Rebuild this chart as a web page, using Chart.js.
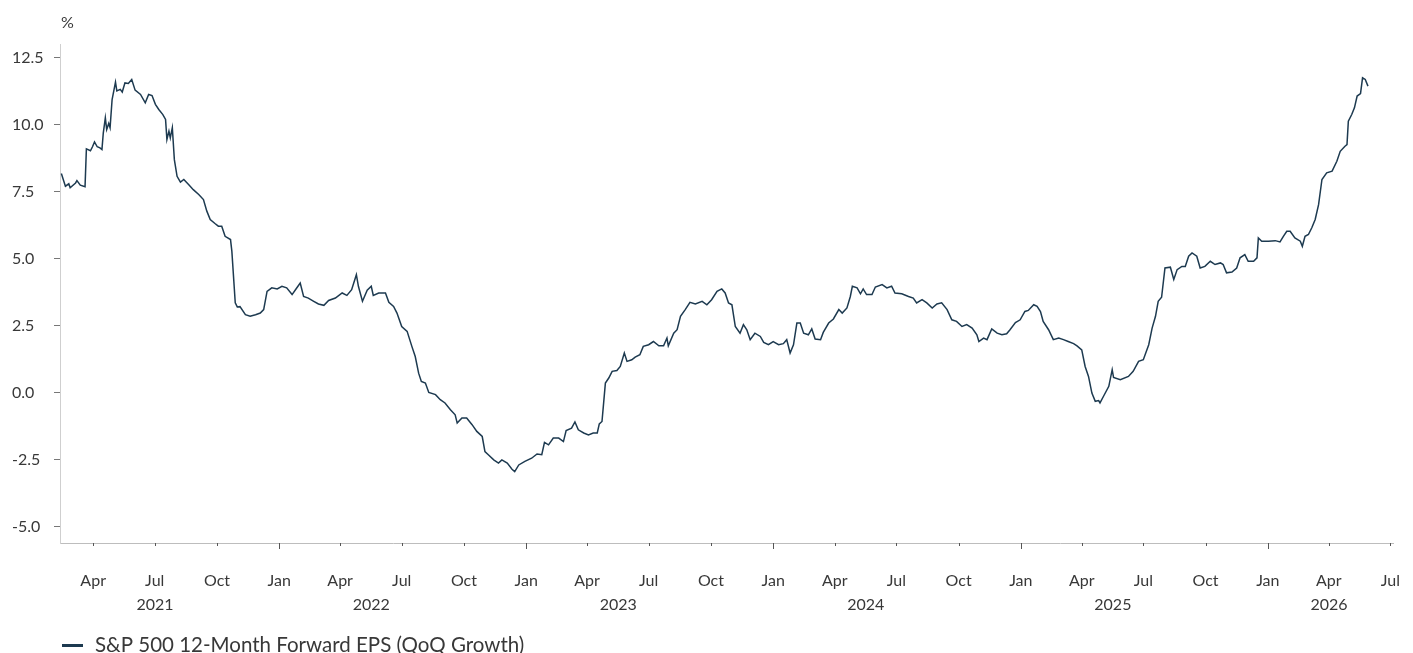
<!DOCTYPE html>
<html>
<head>
<meta charset="utf-8">
<script src="https://cdn.jsdelivr.net/npm/chart.js@4.4.1/dist/chart.umd.min.js"></script>
<style>
html,body{margin:0;padding:0;background:#fff;overflow:hidden}
#wrap{width:1413px;height:653px;position:relative}
</style>
</head>
<body>
<div id="wrap"><canvas id="c" width="1413" height="653"></canvas></div>
<script>
// ---- Data ----
const dates = [
'2021-02-13','2021-02-19','2021-02-24','2021-02-26','2021-03-06','2021-03-08','2021-03-13','2021-03-20','2021-03-22','2021-03-28',
'2021-03-31','2021-04-03','2021-04-07','2021-04-11','2021-04-14','2021-04-16','2021-04-19','2021-04-21','2021-04-24','2021-04-26',
'2021-04-29','2021-05-04','2021-05-06','2021-05-11','2021-05-14','2021-05-18','2021-05-23','2021-05-28','2021-06-02','2021-06-10',
'2021-06-17','2021-06-22','2021-06-27','2021-07-02','2021-07-07','2021-07-13','2021-07-17','2021-07-19','2021-07-22','2021-07-24',
'2021-07-27','2021-07-30','2021-08-03','2021-08-08','2021-08-13','2021-08-20','2021-08-27','2021-09-04','2021-09-11','2021-09-16',
'2021-09-21','2021-09-28','2021-10-03','2021-10-08','2021-10-13','2021-10-21','2021-10-23','2021-10-28','2021-10-31','2021-11-04',
'2021-11-12','2021-11-19','2021-11-27','2021-12-04','2021-12-09','2021-12-14','2021-12-21','2021-12-29',
'2022-01-05','2022-01-12','2022-01-20','2022-01-25','2022-02-01','2022-02-06','2022-02-13','2022-02-21','2022-02-28','2022-03-08',
'2022-03-15','2022-03-25','2022-04-04','2022-04-11','2022-04-18','2022-04-25','2022-04-28','2022-05-04','2022-05-11','2022-05-17',
'2022-05-20','2022-05-28','2022-06-07','2022-06-12','2022-06-19','2022-06-24','2022-07-01','2022-07-09','2022-07-16','2022-07-21',
'2022-07-26','2022-07-30','2022-08-05','2022-08-10','2022-08-20','2022-08-27','2022-09-03','2022-09-11','2022-09-18','2022-09-21',
'2022-09-28','2022-10-05','2022-10-13','2022-10-20','2022-10-28','2022-11-01','2022-11-06','2022-11-14','2022-11-21','2022-11-26',
'2022-12-04','2022-12-11','2022-12-15','2022-12-21','2022-12-30',
'2023-01-09','2023-01-17','2023-01-24','2023-01-28','2023-02-03','2023-02-10','2023-02-18','2023-02-25','2023-03-01','2023-03-09',
'2023-03-14','2023-03-19','2023-03-27','2023-04-03','2023-04-10','2023-04-16','2023-04-19','2023-04-23','2023-04-25','2023-04-28',
'2023-05-03','2023-05-08','2023-05-15','2023-05-20','2023-05-26','2023-05-30','2023-06-06','2023-06-11','2023-06-18','2023-06-23',
'2023-07-01','2023-07-08','2023-07-16','2023-07-23','2023-07-28','2023-07-30','2023-08-07','2023-08-12','2023-08-17','2023-08-24',
'2023-08-31','2023-09-08','2023-09-18','2023-09-25','2023-10-02','2023-10-10','2023-10-17','2023-10-22','2023-10-27','2023-11-01',
'2023-11-06','2023-11-13','2023-11-18','2023-11-23','2023-11-28','2023-12-05','2023-12-13','2023-12-18','2023-12-25',
'2024-01-01','2024-01-09','2024-01-16','2024-01-21','2024-01-26','2024-01-31','2024-02-05','2024-02-10','2024-02-15','2024-02-22',
'2024-02-27','2024-03-03','2024-03-11','2024-03-15','2024-03-23','2024-03-30','2024-04-07','2024-04-12','2024-04-19','2024-04-24',
'2024-04-27','2024-05-04','2024-05-09','2024-05-13','2024-05-18','2024-05-26','2024-05-31','2024-06-10','2024-06-17','2024-06-24',
'2024-06-29','2024-07-09','2024-07-19','2024-07-26','2024-07-31','2024-08-08','2024-08-15','2024-08-23','2024-08-30','2024-09-06',
'2024-09-14','2024-09-21','2024-09-28','2024-10-06','2024-10-13','2024-10-21','2024-10-28','2024-10-31','2024-11-07','2024-11-12',
'2024-11-19','2024-11-27','2024-12-04','2024-12-11','2024-12-16','2024-12-24','2024-12-31',
'2025-01-07','2025-01-12','2025-01-20','2025-01-25','2025-01-30','2025-02-03','2025-02-11','2025-02-18','2025-02-26','2025-03-05',
'2025-03-12','2025-03-20','2025-03-25','2025-04-01','2025-04-06','2025-04-11','2025-04-16','2025-04-21','2025-04-26','2025-04-28',
'2025-05-03','2025-05-11','2025-05-16','2025-05-18','2025-05-28','2025-06-09','2025-06-16','2025-06-24','2025-07-01','2025-07-09',
'2025-07-14','2025-07-19','2025-07-23','2025-07-28','2025-08-02','2025-08-10','2025-08-15','2025-08-20','2025-08-27','2025-09-01',
'2025-09-06','2025-09-11','2025-09-18','2025-09-23','2025-09-30','2025-10-08','2025-10-15','2025-10-23','2025-10-27','2025-11-01',
'2025-11-09','2025-11-16','2025-11-21','2025-11-28','2025-12-03','2025-12-11','2025-12-16','2025-12-18','2025-12-23',
'2026-01-02','2026-01-12','2026-01-19','2026-01-24','2026-01-29','2026-02-03','2026-02-10','2026-02-18','2026-02-21','2026-02-25',
'2026-03-02','2026-03-07','2026-03-12','2026-03-17','2026-03-22','2026-03-29','2026-04-06','2026-04-13','2026-04-18','2026-04-25',
'2026-04-28','2026-04-30','2026-05-05','2026-05-09','2026-05-13','2026-05-18','2026-05-21','2026-05-25','2026-05-29'
];
const values = [
8.17,7.70,7.79,7.64,7.82,7.91,7.74,7.68,9.09,9.02,
9.17,9.35,9.17,9.13,9.07,9.69,10.25,9.81,10.04,9.88,
10.93,11.58,11.25,11.31,11.21,11.55,11.53,11.68,11.28,11.12,
10.81,11.12,11.08,10.75,10.56,10.37,10.19,9.44,9.75,9.50,
9.88,8.69,8.07,7.85,7.95,7.76,7.57,7.39,7.20,6.77,
6.46,6.31,6.21,6.21,5.83,5.71,5.27,3.35,3.20,3.21,
2.91,2.85,2.91,2.97,3.10,3.78,3.91,3.87,
3.97,3.91,3.66,3.84,4.09,3.59,3.53,3.41,3.31,3.26,
3.44,3.53,3.72,3.63,3.84,4.40,3.97,3.41,3.82,3.97,
3.63,3.72,3.72,3.37,3.22,2.97,2.47,2.29,1.73,1.35,
0.73,0.42,0.36,0.01,-0.07,-0.26,-0.38,-0.63,-0.82,-1.13,
-0.94,-0.94,-1.19,-1.44,-1.63,-2.19,-2.31,-2.50,-2.62,-2.50,
-2.62,-2.85,-2.94,-2.69,-2.56,
-2.44,-2.28,-2.31,-1.85,-1.94,-1.69,-1.69,-1.82,-1.41,-1.32,
-1.09,-1.38,-1.50,-1.57,-1.50,-1.50,-1.16,-1.07,-0.50,0.36,
0.55,0.80,0.83,0.98,1.48,1.17,1.23,1.33,1.42,1.73,
1.79,1.91,1.75,1.75,2.04,1.75,2.22,2.35,2.85,3.10,
3.37,3.31,3.41,3.28,3.47,3.78,3.87,3.72,3.35,3.28,
2.47,2.22,2.54,2.35,1.98,2.22,2.10,1.88,1.79,
1.91,1.79,1.83,1.98,1.48,1.79,2.60,2.60,2.22,2.16,
2.38,2.00,1.98,2.25,2.60,2.75,3.10,2.97,3.16,3.59,
3.97,3.91,3.69,3.87,3.66,3.66,3.94,4.03,3.91,3.97,
3.72,3.69,3.59,3.53,3.35,3.47,3.35,3.16,3.31,3.35,
3.10,2.72,2.66,2.47,2.54,2.41,2.16,1.91,2.04,1.98,
2.38,2.22,2.16,2.20,2.35,2.62,2.72,
3.03,3.07,3.28,3.22,3.03,2.66,2.35,1.98,2.04,1.98,
1.91,1.83,1.75,1.60,0.98,0.61,-0.01,-0.32,-0.29,-0.38,
-0.14,0.24,0.86,0.57,0.49,0.61,0.80,1.17,1.23,1.79,
2.41,2.85,3.41,3.56,4.65,4.68,4.22,4.59,4.71,4.71,
5.09,5.21,5.09,4.65,4.71,4.90,4.78,4.84,4.78,4.47,
4.50,4.65,5.03,5.15,4.90,4.90,5.03,5.77,5.65,
5.65,5.67,5.62,5.83,6.02,6.02,5.77,5.65,5.46,5.83,
5.90,6.15,6.46,7.01,7.95,8.20,8.26,8.63,9.00,9.19,
9.25,10.12,10.37,10.62,11.06,11.15,11.74,11.68,11.43
];
const xTickDates = [
'2021-04-01','2021-07-01','2021-10-01',
'2022-01-01','2022-04-01','2022-07-01','2022-10-01',
'2023-01-01','2023-04-01','2023-07-01','2023-10-01',
'2024-01-01','2024-04-01','2024-07-01','2024-10-01',
'2025-01-01','2025-04-01','2025-07-01','2025-10-01',
'2026-01-01','2026-04-01','2026-07-01'
];
const quarterLabels = ['Jan','Apr','Jul','Oct'];
const yearLabels = ['2021','2022','2023','2024','2025','2026'];
const yTickValues = [-5,-2.5,0,2.5,5,7.5,10,12.5];
const seriesName = 'S&P 500 12-Month Forward EPS (QoQ Growth)';
const unitLabel = '%';
const xRange = ['2021-02-11','2026-07-05'];
const yRange = [-5.6, 13.0];

// ---- Styling ----
const LINE = '#1d3a50';
const TEXT = '#383838';
const FONT = 'Lato';

const pts = dates.map((d,i)=>({x: Date.parse(d), y: values[i]}));
const tickMs = xTickDates.map(d=>Date.parse(d));
const monthOf = ms => new Date(ms).getUTCMonth();
const yearOf = ms => new Date(ms).getUTCFullYear();

const extras = {
  id: 'extras',
  afterDraw(chart){
    const ctx = chart.ctx, xs = chart.scales.x, ca = chart.chartArea;
    ctx.save();
    // x tick marks
    ctx.strokeStyle = '#555';
    ctx.lineWidth = 1;
    tickMs.forEach(ms=>{
      const px = Math.round(xs.getPixelForValue(ms)) + 0.5;
      const len = monthOf(ms) === 0 ? 6 : 3;
      ctx.beginPath();
      ctx.moveTo(px, ca.bottom);
      ctx.lineTo(px, ca.bottom + len);
      ctx.stroke();
    });
    // year labels centred under that year's ticks
    ctx.fillStyle = TEXT;
    ctx.font = '16px ' + FONT;
    ctx.textAlign = 'center';
    ctx.textBaseline = 'alphabetic';
    yearLabels.forEach(y=>{
      const ps = tickMs.filter(ms=>String(yearOf(ms))===y).map(ms=>xs.getPixelForValue(ms));
      if(!ps.length) return;
      const cx = ps.reduce((a,b)=>a+b,0)/ps.length;
      ctx.fillText(y, cx, 610);
    });
    // unit label
    ctx.textAlign = 'left';
    ctx.fillText(unitLabel, 61, 28);
    // legend
    ctx.fillStyle = LINE;
    ctx.fillRect(62, 644, 21, 3);
    ctx.fillStyle = TEXT;
    ctx.font = '20.5px ' + FONT;
    ctx.fillText(seriesName, 95, 652);
    ctx.restore();
  }
};

new Chart(document.getElementById('c'), {
  type: 'line',
  data: {
    datasets: [{
      label: seriesName,
      data: pts,
      borderColor: LINE,
      backgroundColor: LINE,
      borderWidth: 1.5,
      pointRadius: 0,
      tension: 0,
      fill: false
    }]
  },
  options: {
    responsive: false,
    devicePixelRatio: 1,
    animation: false,
    parsing: false,
    layout: { padding: { left: 12, right: 20, top: 44, bottom: 0 } },
    plugins: { legend: { display: false }, tooltip: { enabled: false } },
    scales: {
      x: {
        type: 'linear',
        min: Date.parse(xRange[0]),
        max: Date.parse(xRange[1]),
        grid: { display: true, drawOnChartArea: false, drawTicks: true, tickLength: 28, tickColor: 'rgba(0,0,0,0)' },
        border: { display: true, color: '#bdbdbd', width: 1 },
        afterBuildTicks(s){ s.ticks = tickMs.map(v=>({value:v})); },
        afterFit(s){ s.height = 110; },
        ticks: {
          autoSkip: false, maxRotation: 0, minRotation: 0,
          padding: 0,
          color: TEXT,
          font: { family: FONT, size: 16 },
          callback: v => quarterLabels[Math.floor(monthOf(v)/3)]
        }
      },
      y: {
        min: yRange[0], max: yRange[1],
        grid: { display: true, drawOnChartArea: false, drawTicks: true, tickLength: 6, tickColor: '#777' },
        border: { display: true, color: '#cfcfcf', width: 1 },
        afterBuildTicks(s){ s.ticks = yTickValues.map(v=>({value:v})); },
        afterFit(s){ s.width = 48; },
        ticks: {
          crossAlign: 'far',
          padding: 8,
          color: TEXT,
          font: { family: FONT, size: 16 },
          callback: v => Number(v).toFixed(1)
        }
      }
    }
  },
  plugins: [extras]
});
</script>
</body>
</html>
